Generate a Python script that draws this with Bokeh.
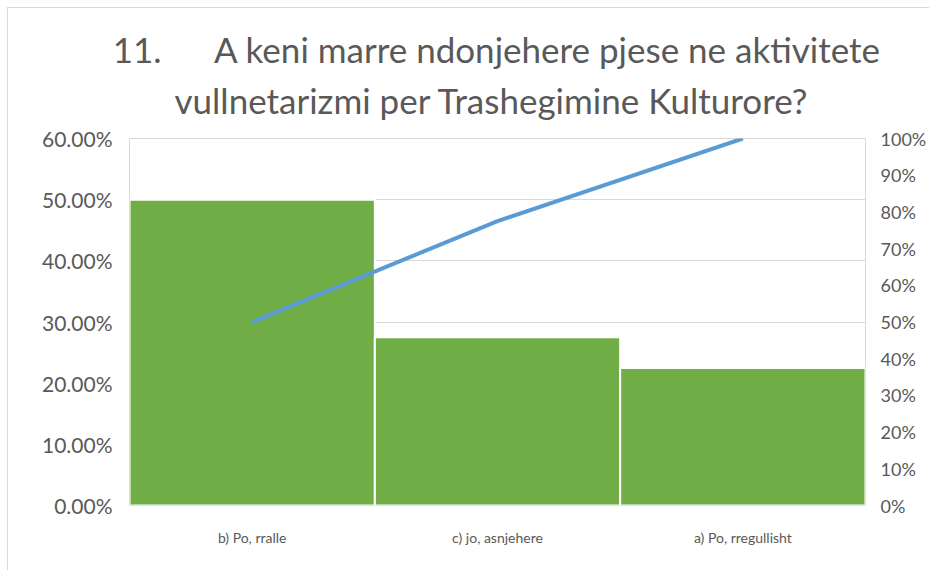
from bokeh.plotting import figure
from bokeh.models import (FactorRange, Range1d, LinearAxis, NumeralTickFormatter,
                          FixedTicker)
from bokeh.embed import file_html
from bokeh.resources import INLINE

categories = ["b) Po, rralle", "c) jo, asnjehere", "a) Po, rregullisht"]
shares = [0.50, 0.275, 0.225]
cumulative = [0.50, 0.775, 1.00]
left_ticks = [0.0, 0.1, 0.2, 0.3, 0.4, 0.5, 0.6]
right_ticks = [0.0, 0.1, 0.2, 0.3, 0.4, 0.5, 0.6, 0.7, 0.8, 0.9, 1.0]
title_line1 = "11.\u00a0\u00a0\u00a0\u00a0\u00a0 A keni marre ndonjehere pjese ne aktivitete"
title_line2 = "\u00a0" * 7 + "vullnetarizmi per Trashegimine Kulturore?"

FONT = "Lato"
GRAY = "#595959"

p = figure(width=922, height=563, output_backend="svg", toolbar_location=None,
           x_range=FactorRange(factors=categories, range_padding=0),
           y_range=Range1d(0, 0.6),
           min_border_left=121, min_border_right=65, min_border_top=130,
           min_border_bottom=66, outline_line_color="#d9d9d9")
p.styles = {"margin-left": "7px", "margin-top": "7px",
            "border-left": "1px solid #d9d9d9", "border-top": "1px solid #d9d9d9"}

p.title.text = title_line1 + "\n" + title_line2
p.title.align = "center"
p.title.vertical_align = "middle"
p.title.text_font = FONT
p.title.text_font_size = "35px"
p.title.text_font_style = "normal"
p.title.text_color = GRAY
p.title.text_line_height = 1.2
p.title.standoff = 34

p.extra_y_ranges = {"cum": Range1d(0, 1)}

p.vbar(x=categories, top=shares, width=1.0, fill_color="#70AD47",
       line_color="white", line_width=2)
p.line(x=categories, y=cumulative, y_range_name="cum", line_color="#5B9BD5",
       line_width=4)

p.yaxis.ticker = FixedTicker(ticks=left_ticks)
p.yaxis.formatter = NumeralTickFormatter(format="0.00%")

right = LinearAxis(y_range_name="cum", ticker=FixedTicker(ticks=right_ticks),
                   formatter=NumeralTickFormatter(format="0%"))
p.add_layout(right, "right")

for ax in [p.yaxis[0], right, p.xaxis[0]]:
    ax.axis_line_color = None
    ax.major_tick_line_color = None
    ax.minor_tick_line_color = None
    ax.major_tick_out = 0
    ax.minor_tick_out = 0
    ax.major_label_text_font = FONT
    ax.major_label_text_color = GRAY
p.yaxis[0].major_label_text_font_size = "21px"
right.major_label_text_font_size = "18px"
p.xaxis[0].major_label_text_font_size = "14px"
p.yaxis[0].major_label_standoff = 17
right.major_label_standoff = 15
p.xaxis[0].major_label_standoff = 23

p.xgrid.grid_line_color = None
p.ygrid.grid_line_color = "#d9d9d9"
p.ygrid.ticker = FixedTicker(ticks=left_ticks)

open("out.html", "w").write(file_html(p, INLINE))
